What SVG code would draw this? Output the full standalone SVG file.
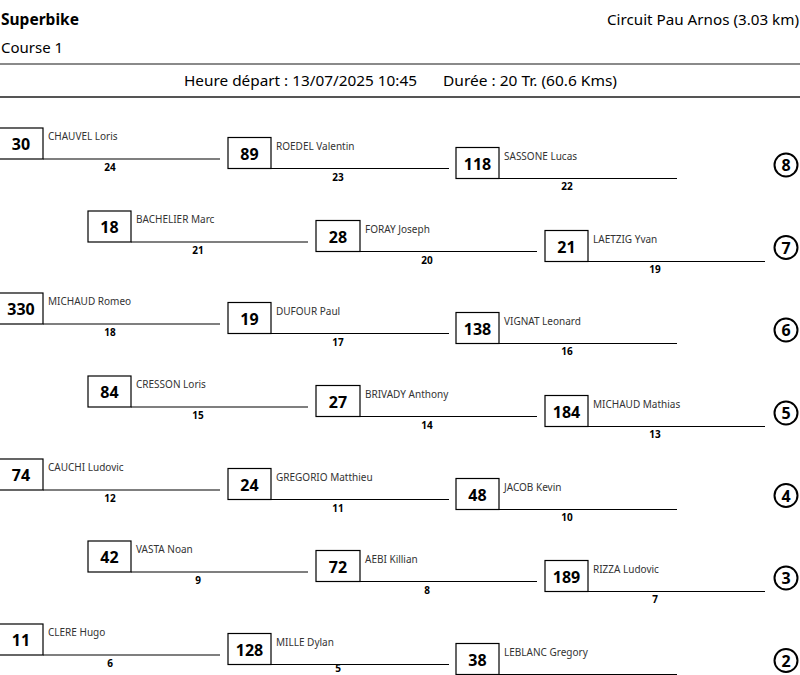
<svg xmlns="http://www.w3.org/2000/svg" width="800" height="675" viewBox="0 0 800 675">
<style>
text{font-family:"Noto Sans","Open Sans","Liberation Sans",sans-serif;fill:#000}
.title{font-size:15.5px;font-weight:bold}
.sub{font-size:15px}
.hdr{font-size:15px}
.node rect{fill:#fff;stroke:#000;stroke-width:1.2}
.num{font-size:16px;font-weight:bold;text-anchor:middle}
.name{font-size:10px;fill:#333}
.conn line{stroke:#000;stroke-width:1.2}
.lab{font-size:10px;font-weight:bold;text-anchor:middle}
.pos circle{fill:#fff;stroke:#000;stroke-width:2}
.pos text{font-size:16px;font-weight:bold;text-anchor:middle}
</style>
<rect x="0" y="0" width="800" height="675" fill="#fff"/>
<g id="header">
<text class="title" x="1" y="25">Superbike</text>
<text class="sub" x="1" y="53">Course 1</text>
<text class="sub" x="799" y="25" text-anchor="end" textLength="192" lengthAdjust="spacingAndGlyphs">Circuit Pau Arnos (3.03 km)</text>
<line x1="0" y1="64" x2="800" y2="64" stroke="#8a8a8a" stroke-width="2"/>
<text class="hdr" x="184" y="86" textLength="233" lengthAdjust="spacingAndGlyphs">Heure départ : 13/07/2025 10:45</text>
<text class="hdr" x="443" y="86" textLength="174" lengthAdjust="spacingAndGlyphs">Durée : 20 Tr. (60.6 Kms)</text>
<line x1="0" y1="97" x2="800" y2="97" stroke="#555" stroke-width="2"/>
</g>
<g id="connectors" class="conn">
<line x1="43" y1="159" x2="220" y2="159"/><text class="lab" x="110" y="171">24</text>
<line x1="271" y1="168.5" x2="449" y2="168.5"/><text class="lab" x="338" y="181">23</text>
<line x1="499" y1="178.5" x2="677" y2="178.5"/><text class="lab" x="567" y="190">22</text>
<line x1="131" y1="242" x2="308" y2="242"/><text class="lab" x="198" y="254">21</text>
<line x1="360" y1="251.5" x2="537" y2="251.5"/><text class="lab" x="427" y="264">20</text>
<line x1="588" y1="261.5" x2="765" y2="261.5"/><text class="lab" x="655" y="273">19</text>
<line x1="43" y1="324" x2="220" y2="324"/><text class="lab" x="110" y="336">18</text>
<line x1="271" y1="333.5" x2="449" y2="333.5"/><text class="lab" x="338" y="346">17</text>
<line x1="499" y1="343.5" x2="677" y2="343.5"/><text class="lab" x="567" y="355">16</text>
<line x1="131" y1="407" x2="308" y2="407"/><text class="lab" x="198" y="419">15</text>
<line x1="360" y1="416.5" x2="537" y2="416.5"/><text class="lab" x="427" y="429">14</text>
<line x1="588" y1="426.5" x2="765" y2="426.5"/><text class="lab" x="655" y="438">13</text>
<line x1="43" y1="490" x2="220" y2="490"/><text class="lab" x="110" y="502">12</text>
<line x1="271" y1="499.5" x2="449" y2="499.5"/><text class="lab" x="338" y="512">11</text>
<line x1="499" y1="509.5" x2="677" y2="509.5"/><text class="lab" x="567" y="521">10</text>
<line x1="131" y1="572" x2="308" y2="572"/><text class="lab" x="198" y="584">9</text>
<line x1="360" y1="581.5" x2="537" y2="581.5"/><text class="lab" x="427" y="594">8</text>
<line x1="588" y1="591.5" x2="765" y2="591.5"/><text class="lab" x="655" y="603">7</text>
<line x1="43" y1="655" x2="220" y2="655"/><text class="lab" x="110" y="667">6</text>
<line x1="271" y1="664.5" x2="449" y2="664.5"/><text class="lab" x="338" y="671.5">5</text>
<line x1="499" y1="674.5" x2="677" y2="674.5"/>
</g>
<g id="n30" class="node"><rect x="-1" y="128" width="44" height="31"/><text class="num" x="21" y="150">30</text><text class="name" x="48" y="140">CHAUVEL Loris</text></g>
<g id="n89" class="node"><rect x="228" y="137.5" width="43" height="31"/><text class="num" x="249.5" y="159.5">89</text><text class="name" x="276" y="149.5">ROEDEL Valentin</text></g>
<g id="n118" class="node"><rect x="456" y="147.5" width="43" height="31"/><text class="num" x="477.5" y="169.5">118</text><text class="name" x="504" y="159.5">SASSONE Lucas</text></g>
<g id="n18" class="node"><rect x="88" y="211" width="43" height="31"/><text class="num" x="109.5" y="233">18</text><text class="name" x="136" y="223">BACHELIER Marc</text></g>
<g id="n28" class="node"><rect x="316" y="220.5" width="44" height="31"/><text class="num" x="338" y="242.5">28</text><text class="name" x="365" y="232.5">FORAY Joseph</text></g>
<g id="n21" class="node"><rect x="545" y="230.5" width="43" height="31"/><text class="num" x="566.5" y="252.5">21</text><text class="name" x="593" y="242.5">LAETZIG Yvan</text></g>
<g id="n330" class="node"><rect x="-1" y="293" width="44" height="31"/><text class="num" x="21" y="315">330</text><text class="name" x="48" y="305">MICHAUD Romeo</text></g>
<g id="n19" class="node"><rect x="228" y="302.5" width="43" height="31"/><text class="num" x="249.5" y="324.5">19</text><text class="name" x="276" y="314.5">DUFOUR Paul</text></g>
<g id="n138" class="node"><rect x="456" y="312.5" width="43" height="31"/><text class="num" x="477.5" y="334.5">138</text><text class="name" x="504" y="324.5">VIGNAT Leonard</text></g>
<g id="n84" class="node"><rect x="88" y="376" width="43" height="31"/><text class="num" x="109.5" y="398">84</text><text class="name" x="136" y="388">CRESSON Loris</text></g>
<g id="n27" class="node"><rect x="316" y="385.5" width="44" height="31"/><text class="num" x="338" y="407.5">27</text><text class="name" x="365" y="397.5">BRIVADY Anthony</text></g>
<g id="n184" class="node"><rect x="545" y="395.5" width="43" height="31"/><text class="num" x="566.5" y="417.5">184</text><text class="name" x="593" y="407.5">MICHAUD Mathias</text></g>
<g id="n74" class="node"><rect x="-1" y="459" width="44" height="31"/><text class="num" x="21" y="481">74</text><text class="name" x="48" y="471">CAUCHI Ludovic</text></g>
<g id="n24" class="node"><rect x="228" y="468.5" width="43" height="31"/><text class="num" x="249.5" y="490.5">24</text><text class="name" x="276" y="480.5">GREGORIO Matthieu</text></g>
<g id="n48" class="node"><rect x="456" y="478.5" width="43" height="31"/><text class="num" x="477.5" y="500.5">48</text><text class="name" x="504" y="490.5">JACOB Kevin</text></g>
<g id="n42" class="node"><rect x="88" y="541" width="43" height="31"/><text class="num" x="109.5" y="563">42</text><text class="name" x="136" y="553">VASTA Noan</text></g>
<g id="n72" class="node"><rect x="316" y="550.5" width="44" height="31"/><text class="num" x="338" y="572.5">72</text><text class="name" x="365" y="562.5">AEBI Killian</text></g>
<g id="n189" class="node"><rect x="545" y="560.5" width="43" height="31"/><text class="num" x="566.5" y="582.5">189</text><text class="name" x="593" y="572.5">RIZZA Ludovic</text></g>
<g id="n11" class="node"><rect x="-1" y="624" width="44" height="31"/><text class="num" x="21" y="646">11</text><text class="name" x="48" y="636">CLERE Hugo</text></g>
<g id="n128" class="node"><rect x="228" y="633.5" width="43" height="31"/><text class="num" x="249.5" y="655.5">128</text><text class="name" x="276" y="645.5">MILLE Dylan</text></g>
<g id="n38" class="node"><rect x="456" y="643.5" width="43" height="31"/><text class="num" x="477.5" y="665.5">38</text><text class="name" x="504" y="655.5">LEBLANC Gregory</text></g>
<g id="positions" class="pos">
<g id="p8"><circle cx="786" cy="165" r="11.5"/><text x="786" y="171">8</text></g>
<g id="p7"><circle cx="786" cy="247.5" r="11.5"/><text x="786" y="253.5">7</text></g>
<g id="p6"><circle cx="786" cy="330" r="11.5"/><text x="786" y="336">6</text></g>
<g id="p5"><circle cx="786" cy="413" r="11.5"/><text x="786" y="419">5</text></g>
<g id="p4"><circle cx="786" cy="495.5" r="11.5"/><text x="786" y="501.5">4</text></g>
<g id="p3"><circle cx="786" cy="578" r="11.5"/><text x="786" y="584">3</text></g>
<g id="p2"><circle cx="786" cy="660.5" r="11.5"/><text x="786" y="666.5">2</text></g>
</g>
</svg>
